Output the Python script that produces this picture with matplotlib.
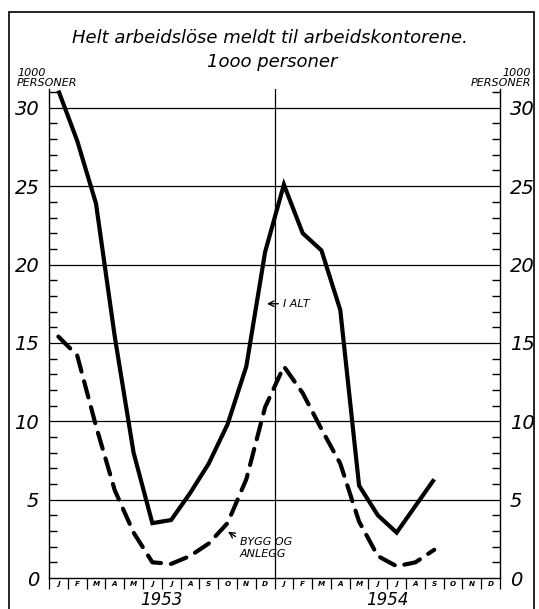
import matplotlib
matplotlib.use("Agg")
import matplotlib.pyplot as plt
from matplotlib.patches import Rectangle
from matplotlib.ticker import FixedLocator, MultipleLocator

# ---- data (thousand persons), Jan 1953 .. Sep 1954 ----
months = ['J', 'F', 'M', 'A', 'M', 'J', 'J', 'A', 'S', 'O', 'N', 'D'] * 2
years = ['1953', '1954']
total = [31.1, 27.9, 23.9, 15.4, 8.0, 3.5, 3.7, 5.4, 7.3, 9.8, 13.5, 20.8,
         25.1, 22.0, 20.9, 17.1, 5.9, 4.0, 2.9, 4.6, 6.3]
building = [15.4, 14.2, 9.7, 5.6, 2.9, 1.0, 0.9, 1.4, 2.2, 3.5, 6.3, 10.9,
            13.5, 11.8, 9.5, 7.3, 3.6, 1.4, 0.75, 1.0, 1.8]
yticks = [0, 5, 10, 15, 20, 25, 30]

FONT = 'DejaVu Sans'
W, H = 539, 609
fig = plt.figure(figsize=(W / 100, H / 100), dpi=100)
ax = fig.add_axes([49 / W, 1 - 578 / H, (500 - 49) / W, (578 - 89) / H])

x_total = list(range(len(total)))
x_build = list(range(len(building)))
ax.plot(x_total, total, color='black', lw=3.0, solid_joinstyle='miter',
        solid_capstyle='butt', zorder=3)
ax.plot(x_build, building, color='black', lw=3.0, dashes=(4, 2.4),
        dash_capstyle='round', zorder=3)

ax.set_xlim(-0.5, 23.5)
ax.set_ylim(0, 31.2)

for v in yticks[1:]:
    ax.axhline(v, color='black', lw=0.9, zorder=1)
ax.axvline(11.5, color='black', lw=0.9, zorder=1)

ax.spines['top'].set_visible(False)
for s in ['left', 'right', 'bottom']:
    ax.spines[s].set_linewidth(1.0)

ax.yaxis.set_major_locator(FixedLocator(yticks))
ax.yaxis.set_minor_locator(MultipleLocator(1))
ax.tick_params(axis='y', which='both', direction='in', left=True, right=True,
               labelleft=True, labelright=True, width=1.0)
ax.tick_params(axis='y', which='major', length=0, pad=7)
ax.tick_params(axis='y', which='minor', length=6)
for lab in ax.get_yticklabels():
    lab.set_fontsize(14)
    lab.set_fontstyle('italic')
    lab.set_family(FONT)

ax.xaxis.set_major_locator(FixedLocator(list(range(24))))
ax.set_xticklabels(months)
ax.xaxis.set_minor_locator(FixedLocator([i + 0.5 for i in range(-1, 24)]))
ax.tick_params(axis='x', which='major', length=0, pad=2.0, labelsize=5.2)
ax.tick_params(axis='x', which='minor', direction='out', length=8, width=0.9)
for lab in ax.get_xticklabels():
    lab.set_fontstyle('italic')
    lab.set_fontweight('bold')
    lab.set_family(FONT)

for i, yr in enumerate(years):
    ax.text(5.5 + 12 * i, -1.42, yr, ha='center', va='center', fontsize=12,
            style='italic', family=FONT, clip_on=False)

ax.annotate('', xy=(10.95, 17.5), xytext=(11.85, 17.5),
            arrowprops=dict(arrowstyle='->', lw=1.0, color='black'))
ax.text(11.95, 17.5, 'I ALT', ha='left', va='center', fontsize=8,
        style='italic', family=FONT)
ax.annotate('', xy=(8.9, 3.05), xytext=(9.55, 2.55),
            arrowprops=dict(arrowstyle='->', lw=1.0, color='black'))
ax.text(9.65, 2.6, 'BYGG OG\nANLEGG', ha='left', va='top', fontsize=8,
        style='italic', family=FONT, linespacing=1.2)

fig.text(0.5, 1 - 38 / H, 'Helt arbeidslöse meldt til arbeidskontorene.',
         ha='center', va='center', fontsize=13, style='italic', family=FONT)
fig.text(0.505, 1 - 62 / H, '1ooo personer', ha='center', va='center',
         fontsize=13, style='italic', family=FONT)
fig.text(17 / W, 1 - 78 / H, '1000\nPERSONER', ha='left', va='center',
         fontsize=8, style='italic', family=FONT, linespacing=1.0)
fig.text(531 / W, 1 - 78 / H, '1000\nPERSONER', ha='right', va='center',
         fontsize=8, style='italic', family=FONT, linespacing=1.0,
         multialignment='right')

fig.patches.append(Rectangle((9 / W, -0.01), (534 - 9) / W, 1 - 12 / H + 0.01,
                             transform=fig.transFigure, fill=False,
                             lw=1.2, color='black'))

fig.savefig('out.png', dpi=100)
